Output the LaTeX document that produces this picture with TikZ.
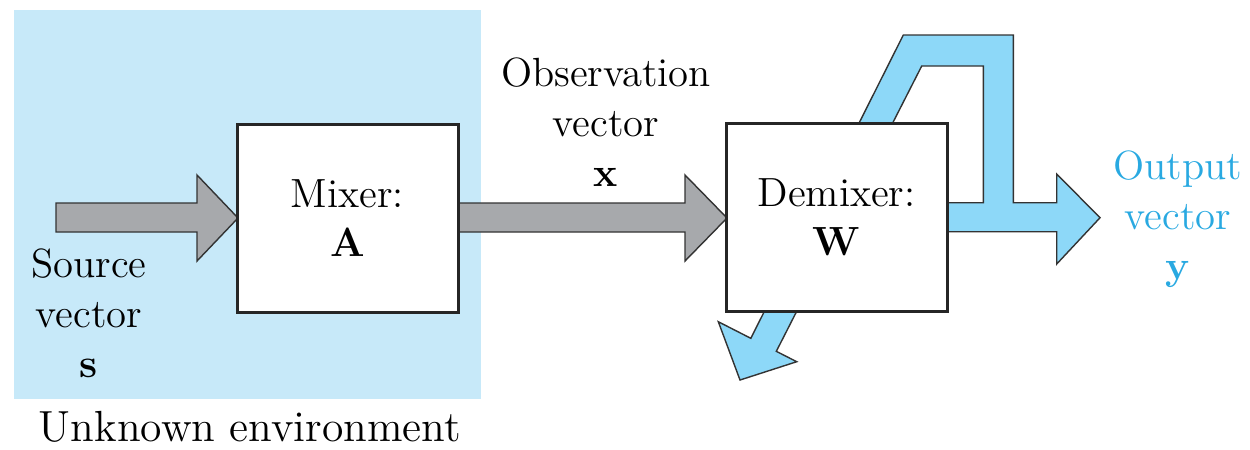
\documentclass[tikz,border=0pt]{standalone}
\usetikzlibrary{positioning}
\definecolor{envblue}{HTML}{C7E9F9}
\definecolor{arrowgray}{HTML}{A7A9AC}
\definecolor{arrowblue}{HTML}{8DD8F8}
\definecolor{textblue}{HTML}{29A9E1}
\tikzset{
  blockbox/.style={draw=black!85, fill=white, line width=0.85pt,
    minimum width=22.1mm, minimum height=18.8mm, inner sep=0pt,
    align=center, font=\fontsize{11.6}{14}\selectfont},
  fatarrow/.style={draw=black!80, line width=0.4pt, line join=miter},
  lbl/.style={align=center, font=\fontsize{11.6}{14.2}\selectfont},
}

\begin{document}
\begin{tikzpicture}[x=0.1mm, y=-0.1mm]
        \useasboundingbox (0,0) rectangle (1250,449);

        \fill[envblue] (14,10) rectangle (481,399);

        \draw[fatarrow, fill=arrowgray] (56,203) -- (197,203) -- (197,175) -- (238,218) -- (197,261) -- (197,232) -- (56,232) -- cycle;
        \draw[fatarrow, fill=arrowgray] (458,203) -- (685,203) -- (685,175) -- (727,218) -- (685,261) -- (685,232) -- (458,232) -- cycle;

        \draw[fatarrow, fill=arrowblue] (946,231.7) -- (1056.7,231.7) -- (1056.7,264) -- (1100,217.7) -- (1056.7,174) -- (1056.7,202.7)
                -- (1013.3,202.7) -- (1013.3,35) -- (903.3,35) -- (750.8,338.3) -- (718.3,321.7) -- (740,380) -- (796.7,361.7)
                -- (776.3,351.3) -- (921.7,66) -- (983.3,66) -- (983.3,202.7) -- (946,202.7) -- cycle;

        \node[blockbox] (mixer) at (347.5,218) {Mixer:\\\textbf{A}};
        \node[blockbox] (demixer) at (836.5,217.5) {Demixer:\\\textbf{W}};

        \node[lbl] (source) at (89,313.5) {Source\\vector\\\textbf{s}};
        \node[lbl] (observation) at (606,122) {Observation\\vector\\\textbf{x}};
        \node[lbl, text=textblue] (output) at (1178,219.5) {Output\\vector\\\textbf{y}};
        \node[lbl, font=\fontsize{12.4}{14.2}\selectfont] (environment) at (250,427) {Unknown environment};

\end{tikzpicture}
\end{document}
